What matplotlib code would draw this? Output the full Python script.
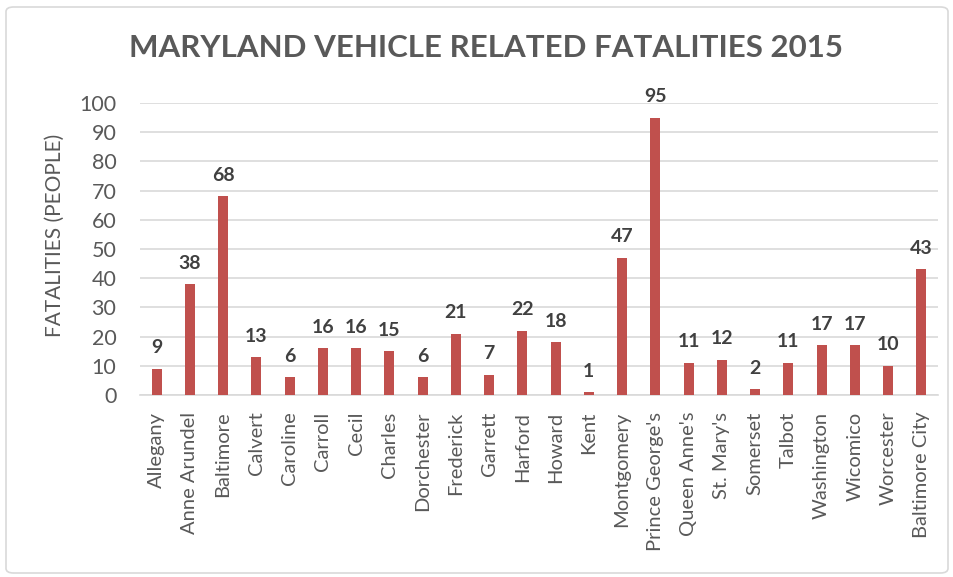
import matplotlib
matplotlib.use("Agg")
import matplotlib.pyplot as plt
from matplotlib.patches import FancyBboxPatch

counties = ["Allegany", "Anne Arundel", "Baltimore", "Calvert", "Caroline", "Carroll",
            "Cecil", "Charles", "Dorchester", "Frederick", "Garrett", "Harford", "Howard",
            "Kent", "Montgomery", "Prince George's", "Queen Anne's", "St. Mary's",
            "Somerset", "Talbot", "Washington", "Wicomico", "Worcester", "Baltimore City"]
fatalities = [9, 38, 68, 13, 6, 16, 16, 15, 6, 21, 7, 22, 18, 1, 47, 95, 11, 12, 2, 11,
              17, 17, 10, 43]
yticks = [0, 10, 20, 30, 40, 50, 60, 70, 80, 90, 100]

plt.rcParams['font.family'] = ['Lato', 'DejaVu Sans']

fig = plt.figure(figsize=(9.54, 5.77), dpi=100)
ax = fig.add_axes([140/954, 1-395/577, (938-140)/954, (395-103)/577])

x = list(range(len(counties)))
ax.bar(x, fatalities, width=0.3, color="#C0504D", zorder=3)
for xi, v in zip(x, fatalities):
    ax.annotate(str(v), (xi, v), xytext=(0, 9), textcoords="offset points",
                ha="center", va="bottom", fontsize=14, fontweight="bold", color="#404040")

ax.set_xlim(-0.5, len(counties) - 0.5)
ax.set_ylim(0, 100)
ax.set_yticks(yticks)
ax.set_yticklabels([str(t) for t in yticks], fontsize=15.5, color="#595959")
ax.set_xticks(x)
ax.set_xticklabels(counties, rotation=90, fontsize=14.5, color="#595959")
ax.tick_params(axis="y", length=0, pad=17)
ax.tick_params(axis="x", length=0, pad=12)
ax.grid(axis="y", color="#D9D9D9", linewidth=1.2, zorder=0)
for s in ["top", "right", "left"]:
    ax.spines[s].set_visible(False)
ax.spines["bottom"].set_color("#D9D9D9")
ax.spines["bottom"].set_linewidth(1.2)
ax.set_ylabel("FATALITIES (PEOPLE)", fontsize=15, color="#595959")
ax.yaxis.set_label_coords((65-140)/798, (395-235)/292)

fig.text(486/954, 1-48/577, "MARYLAND VEHICLE RELATED FATALITIES 2015", ha="center", va="center",
         fontsize=22.5, fontweight="bold", color="#595959")

border = FancyBboxPatch((6/954, 4/577), 942/954, 566/577, boxstyle="round,pad=0,rounding_size=0.008",
                        transform=fig.transFigure, facecolor="none", edgecolor="#D9D9D9", linewidth=1.2)
fig.patches.append(border)

fig.savefig("out.png", dpi=100)
